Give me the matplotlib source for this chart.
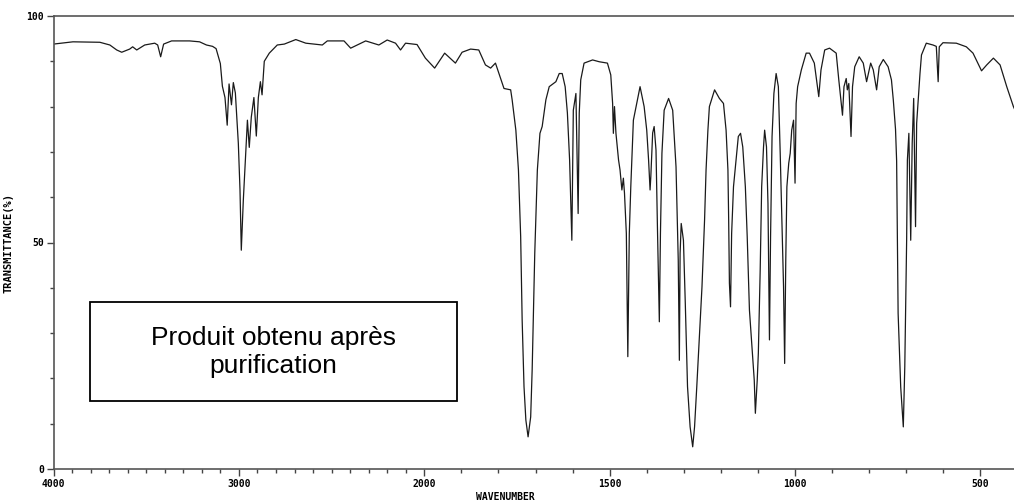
import numpy as np
import matplotlib
matplotlib.use("Agg")
import matplotlib.pyplot as plt
from matplotlib.patches import Rectangle
from matplotlib.ticker import FixedLocator, MultipleLocator

# spectrum: wavenumber (cm-1) / transmittance (%)
wavenumber = [4000, 3895, 3750, 3696, 3659, 3632, 3589, 3573, 3551, 3508,
              3454, 3438, 3422, 3406, 3363, 3266, 3212, 3175, 3142, 3123,
              3100, 3089, 3075, 3063, 3053, 3040, 3030, 3019, 3003, 2994,
              2987, 2976, 2965, 2954, 2944, 2933, 2919, 2906, 2895, 2884,
              2875, 2863, 2836, 2793, 2755, 2693, 2639, 2550, 2523, 2433,
              2397, 2316, 2245, 2200, 2155, 2128, 2101, 2039,
              1997, 1972, 1945, 1916, 1898, 1875, 1853, 1835, 1821, 1808,
              1785, 1767, 1763, 1753, 1746, 1740, 1736, 1731, 1726, 1720,
              1713, 1709, 1702, 1695, 1688, 1682, 1672, 1663, 1645, 1636,
              1628, 1620, 1614, 1608, 1602, 1598, 1591, 1585, 1582, 1578,
              1569, 1546, 1528, 1506, 1497, 1492, 1490, 1487, 1483, 1476,
              1472, 1467, 1463, 1460, 1455, 1451, 1447, 1443, 1436, 1418,
              1407, 1400, 1395, 1391, 1389, 1384, 1380, 1375, 1371, 1366,
              1363, 1359, 1353, 1341, 1330, 1321, 1315, 1312, 1310, 1307,
              1301, 1296, 1290, 1283, 1276, 1271, 1265, 1258, 1251, 1244,
              1240, 1235, 1231, 1217, 1204, 1193, 1186, 1181, 1179, 1177,
              1174, 1171, 1166, 1159, 1153, 1147, 1141, 1134, 1129, 1123,
              1115, 1110, 1107, 1102, 1099, 1094, 1090, 1085, 1082, 1077,
              1073, 1069, 1066, 1062, 1057, 1051, 1045, 1040, 1035, 1031,
              1028, 1025, 1022, 1017, 1013, 1009, 1004, 1000, 997, 993,
              983, 970, 961, 948, 936, 930, 920, 907, 889, 882,
              872, 868, 862, 859, 855, 849, 845, 839, 827, 816,
              807, 796, 789, 780, 773, 762, 749, 740, 735, 729,
              726, 722, 715, 708, 704, 699, 697, 693, 688, 684,
              680, 675, 672, 663, 659, 646, 628, 619, 614, 611,
              601, 565, 538, 520, 497, 483, 465, 447, 429, 411, 400]
transmittance = [93.8, 94.3, 94.2, 93.6, 92.5, 92.0, 92.7, 93.2, 92.5, 93.6,
                 94.0, 93.6, 91.0, 93.8, 94.5, 94.5, 94.3, 93.6, 93.3, 92.8,
                 89.5, 84.5, 82.0, 75.9, 85.0, 80.4, 85.3, 83.0, 71.9, 61.6,
                 48.3, 59.4, 68.2, 77.0, 71.0, 77.7, 82.0, 73.5, 82.0, 85.5,
                 82.6, 90.0, 91.8, 93.6, 93.8, 94.8, 94.0, 93.6, 94.5, 94.5,
                 92.9, 94.5, 93.6, 94.7, 94.0, 92.5, 94.0, 93.7,
                 90.7, 88.5, 91.8, 89.6, 92.0, 92.7, 92.5, 89.2, 88.5, 89.6,
                 84.0, 83.7, 81.5, 74.8, 66.0, 51.3, 32.9, 18.2, 10.8, 7.1,
                 11.5, 21.9, 47.6, 66.0, 74.1, 75.6, 81.5, 84.4, 85.5, 87.3,
                 87.3, 84.4, 78.6, 68.2, 50.5, 79.2, 82.9, 56.4, 78.6, 85.9,
                 89.6, 90.3, 89.9, 89.6, 87.0, 80.7, 74.1, 80.0, 74.1, 68.2,
                 66.0, 61.6, 64.2, 60.9, 52.0, 24.8, 52.0, 62.3, 77.0, 84.4,
                 80.0, 74.8, 68.2, 61.6, 64.5, 74.2, 75.6, 70.4, 52.8, 32.5,
                 52.0, 69.7, 79.2, 81.8, 79.2, 66.7, 46.1, 24.0, 47.6, 54.2,
                 50.5, 36.6, 18.2, 9.3, 4.9, 9.3, 18.2, 29.2, 40.2, 55.0,
                 66.0, 74.8, 80.0, 83.7, 81.8, 80.7, 74.8, 66.0, 55.0, 41.0,
                 35.8, 52.0, 62.3, 68.2, 73.4, 74.1, 71.1, 62.3, 51.3, 35.1,
                 25.5, 19.6, 12.3, 19.6, 25.5, 43.9, 62.3, 71.1, 74.8, 71.1,
                 58.6, 28.5, 51.3, 73.4, 82.9, 87.3, 84.4, 69.7, 53.5, 40.2,
                 23.3, 46.1, 62.3, 67.5, 69.7, 74.8, 77.0, 63.1, 80.7, 84.4,
                 88.1, 91.8, 91.8, 89.6, 82.2, 88.1, 92.5, 92.9, 91.8, 85.9,
                 78.1, 84.4, 86.2, 83.7, 85.1, 73.4, 84.4, 88.8, 91.0, 89.6,
                 85.5, 89.6, 88.1, 83.7, 88.8, 90.4, 88.8, 85.9, 81.5, 75.0,
                 68.0, 34.4, 18.1, 9.3, 22.6, 50.5, 68.2, 74.1, 50.5, 71.9,
                 81.8, 53.5, 76.3, 87.3, 91.4, 94.0, 93.6, 93.3, 85.5, 93.2,
                 94.1, 94.0, 93.2, 91.8, 87.9, 89.2, 90.7, 89.2, 84.4, 80.0, 78.0]

major_ticks = [4000, 3000, 2000, 1500, 1000, 500]
box_text = "Produit obtenu après\npurification"


# IR chart: 4000-2000 drawn at half the scale of 2000-400
def fwd(w):
    w = np.asarray(w, dtype=float)
    return np.where(w >= 2000, 1600 + (w - 2000) / 2, w - 400)


def inv(u):
    u = np.asarray(u, dtype=float)
    return np.where(u >= 1600, 2000 + (u - 1600) * 2, u + 400)


fig = plt.figure(figsize=(10.14, 5.03), dpi=100)
ax = fig.add_axes([53.5 / 1014, 34 / 503, 964 / 1014, 453 / 503])
ax.set_xscale("function", functions=(fwd, inv))
ax.plot(wavenumber, transmittance, color="#1a1a1a", lw=0.9)
ax.set_xlim(4000, 400)
ax.set_ylim(0, 100)

mono = "DejaVu Sans Mono"
ax.xaxis.set_major_locator(FixedLocator(major_ticks))
ax.xaxis.set_minor_locator(FixedLocator(list(range(400, 4001, 100))))
ax.set_xticklabels([str(t) for t in major_ticks], family=mono, fontsize=7, weight="bold")
ax.yaxis.set_major_locator(FixedLocator([0, 50, 100]))
ax.yaxis.set_minor_locator(MultipleLocator(10))
ax.set_yticklabels(["0", "50", "100"], family=mono, fontsize=7, weight="bold")
ax.tick_params(which="major", length=5, width=1, color="#444444", pad=2)
ax.tick_params(which="minor", length=3, width=1, color="#444444")

ax.spines["right"].set_visible(False)
for s in ["left", "bottom", "top"]:
    ax.spines[s].set_color("#555555")
    ax.spines[s].set_linewidth(1.2)

fig.text(505 / 1014, 1 - 497 / 503, "WAVENUMBER", family=mono, fontsize=7,
         weight="bold", ha="center", va="center")
fig.text(8 / 1014, 1 - 243 / 503, "TRANSMITTANCE(%)", family=mono, fontsize=7.5,
         weight="bold", ha="center", va="center", rotation=90)

fig.add_artist(Rectangle((90 / 1014, 1 - 401 / 503), 367 / 1014, 99 / 503,
                         transform=fig.transFigure, fill=False, ec="black", lw=1.3))
fig.text(273.5 / 1014, 1 - 352 / 503, box_text, family="Liberation Sans",
         fontsize=19, ha="center", va="center", linespacing=1.25)

fig.savefig("out.png", dpi=100)
